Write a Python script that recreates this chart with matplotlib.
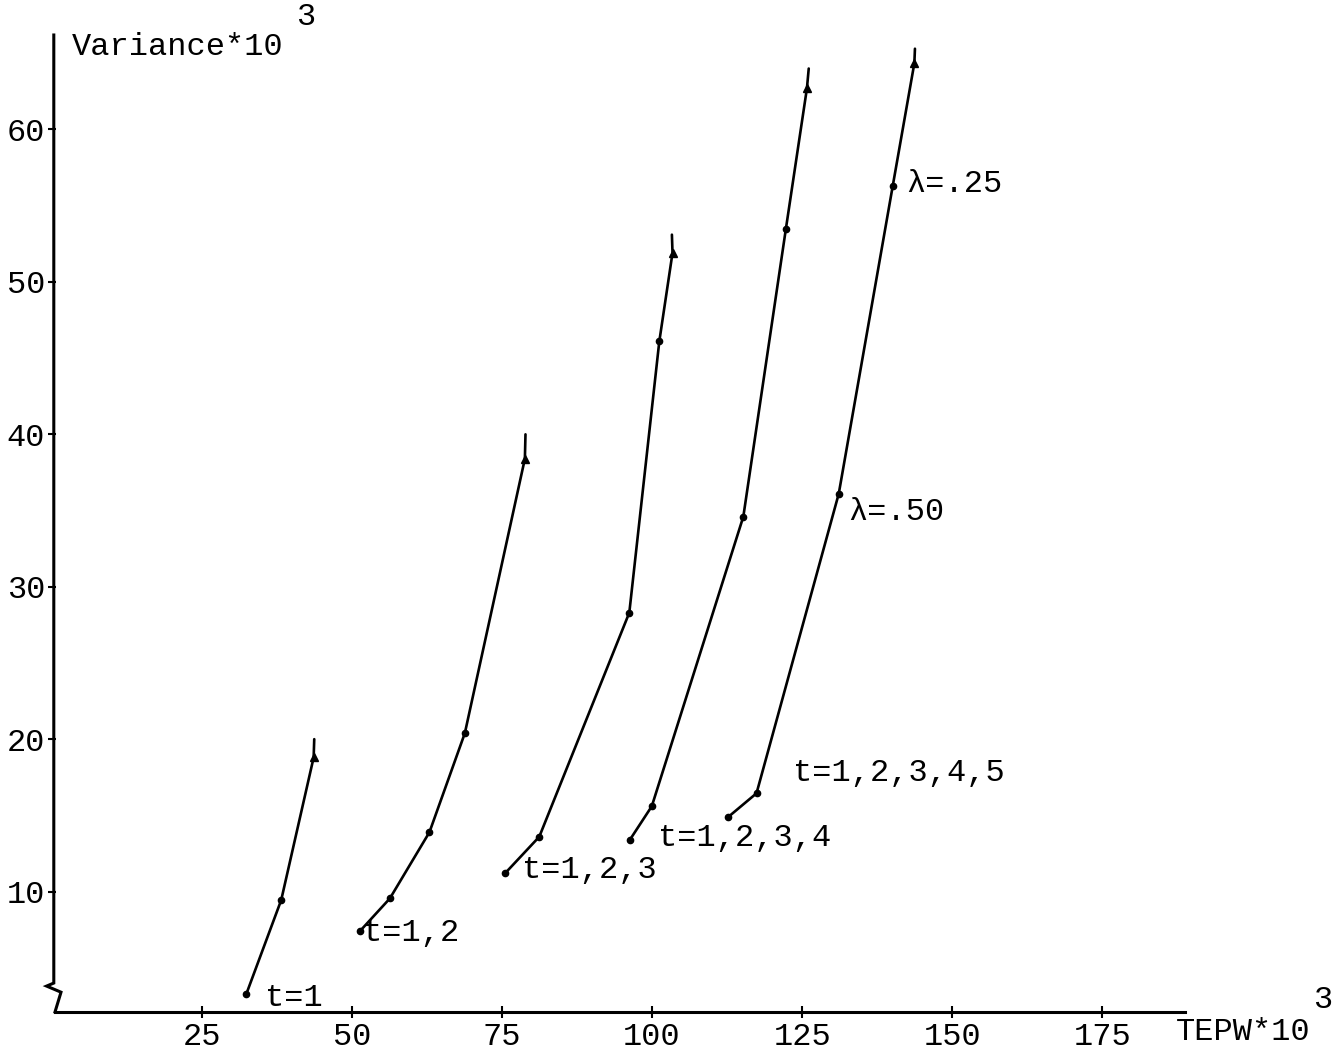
import matplotlib
matplotlib.use("Agg")
import matplotlib.pyplot as plt

# ---- data (TEPW*10^3 , Variance*10^3) ----
c1_x = [32.4, 38.2, 43.6, 43.7]
c1_y = [3.3, 9.45, 18.8, 20.0]
c2_x = [51.3, 56.3, 62.9, 68.8, 78.8, 78.9]
c2_y = [7.4, 9.55, 13.9, 20.4, 38.4, 40.0]
c3_x = [75.5, 81.2, 96.2, 101.2, 103.4, 103.3]
c3_y = [11.2, 13.6, 28.3, 46.1, 51.9, 53.1]
c4_x = [96.3, 99.95, 115.2, 122.3, 125.8, 126.1]
c4_y = [13.4, 15.6, 34.6, 53.5, 62.7, 64.0]
c5_x = [112.7, 117.4, 131.1, 140.1, 143.7, 143.8]
c5_y = [14.9, 16.45, 36.1, 56.3, 64.35, 65.3]

curve_labels = ["t=1", "t=1,2", "t=1,2,3", "t=1,2,3,4", "t=1,2,3,4,5"]
lambda_labels = ["\u03bb=.25", "\u03bb=.50"]

x_ticks = [25, 50, 75, 100, 125, 150, 175]
y_ticks = [10, 20, 30, 40, 50, 60]

FONT = "Liberation Mono"
FS = 23

fig = plt.figure(figsize=(13.39, 10.52), dpi=100)
ax = fig.add_axes([52 / 1339, 1 - 1012 / 1052, (1185 - 52) / 1339, (1012 - 35) / 1052])
ax.set_xlim(0, 188.8)
ax.set_ylim(2.1, 66.2)

for s in ax.spines.values():
    s.set_visible(False)

# axes lines (y axis with break zigzag)
ax.plot([0.3, 0.3, -0.9, 1.5, 0.5], [66.2, 4.0, 3.8, 3.4, 2.1],
        color="black", lw=2.2, clip_on=False, solid_joinstyle="miter")
ax.plot([0.5, 188.8], [2.1, 2.1], color="black", lw=2.2, clip_on=False)

curves = [(c1_x, c1_y), (c2_x, c2_y), (c3_x, c3_y), (c4_x, c4_y), (c5_x, c5_y)]
for xs, ys in curves:
    ax.plot(xs, ys, color="black", lw=1.9, solid_capstyle="round")
    ax.plot(xs[:-2], ys[:-2], "o", color="black", ms=4.5)
    ax.plot(xs[-2:-1], ys[-2:-1], "^", color="black", ms=6)

ax.set_xticks(x_ticks)
ax.set_xticklabels([str(v) for v in x_ticks], fontfamily=FONT, fontsize=FS)
ax.set_yticks(y_ticks)
ax.set_yticklabels([str(v) for v in y_ticks], fontfamily=FONT, fontsize=FS)
ax.tick_params(axis="x", direction="inout", length=8, width=1.5, pad=3)
ax.tick_params(axis="y", direction="inout", length=6, width=1.5, pad=2)

tk = dict(fontfamily=FONT, fontsize=FS, color="black", va="center", ha="left")
label_pos = [(35.5, 3.0), (51.8, 7.3), (78.3, 11.4), (101.0, 13.5), (123.4, 17.8)]
for lab, (x, y) in zip(curve_labels, label_pos):
    ax.text(x, y, lab, **tk)

ax.text(142.4, 56.4, lambda_labels[0], **tk)
ax.text(132.7, 34.9, lambda_labels[1], **tk)

ax.text(3.3, 65.4, "Variance*10", **tk)
ax.text(40.6, 67.4, "3", **tk)
ax.text(187.2, 0.8, "TEPW*10", clip_on=False, **tk)
ax.text(211.8, 2.9, "3", fontfamily=FONT, fontsize=FS, color="black",
        va="center", ha="center", clip_on=False)

fig.savefig("out.png", dpi=100)
